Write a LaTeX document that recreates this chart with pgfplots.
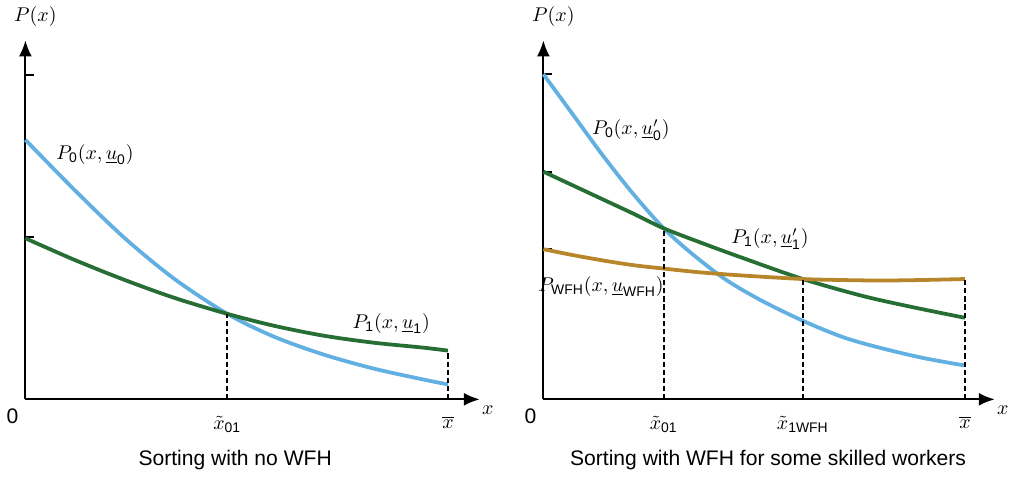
\documentclass[border=0pt]{standalone}
\usepackage{fontspec}
\setmainfont{Liberation Sans}
\usepackage{amsmath}
\usepackage{pgfplots}
\pgfplotsset{compat=1.18}
\usetikzlibrary{arrows.meta}

\definecolor{pblue}{RGB}{98,176,226}
\definecolor{pgreen}{RGB}{38,110,52}
\definecolor{pgold}{RGB}{184,134,42}

\tikzset{caption/.style={font=\fontsize{10.6}{12}\selectfont}}

\pgfplotsset{
  sortax/.style={
    x=0.5pt, y=0.5pt,
    xmin=0, ymin=0, ymax=361,
    axis lines=left,
    axis line style={line width=1pt, -{Latex[length=8pt,width=6.5pt]}},
    clip=false,
    tick align=inside,
    major tick length=4.5pt,
    ytick style={line width=1pt, black},
    yticklabel=\empty,
    xtick style={draw=none},
    xticklabel style={yshift=-5pt},
    every node/.append style={font=\fontsize{9.6}{11}\selectfont},
  },
  curve/.style={line width=1.9pt, smooth},
  guide/.style={line width=0.9pt, dash pattern=on 2.6pt off 1.5pt, black},
}

\begin{document}
\begin{tikzpicture}
% ---------- left: no WFH ----------
\begin{axis}[sortax, xmax=457,
    ytick={163,326},
    xtick={203,425},
    xticklabels={$\tilde{x}_{\text{01}}$, $\overline{x}$}]

\addplot[curve, pblue] coordinates {
(0,261) (50,210) (100,162) (150,121) (203,86) (250,63) (300,45) (350,31) (400,20) (425,15)};
\addplot[curve, pgreen] coordinates {
(0,162) (50,140) (100,120) (150,102) (203,86) (250,74) (300,64) (350,57) (400,52) (425,49)};

\addplot[guide] coordinates {(203,0) (203,86)};
\addplot[guide] coordinates {(425,0) (425,49)};

\node at (axis cs:70,246) {$P_{\text{0}}(x,\underline{u}_{\text{0}})$};
\node at (axis cs:368,76) {$P_{\text{1}}(x,\underline{u}_{\text{1}})$};
\node at (axis cs:10,385) {$P(x)$};
\node[caption] at (axis cs:-13,-17) {0};
\node at (axis cs:465,-11) {$x$};
\node[caption] at (axis cs:211,-61) {Sorting with no WFH};
\end{axis}

% ---------- right: WFH for some skilled workers ----------
\begin{axis}[sortax, xshift=260.5pt, xmax=454,
    ytick={151,229,327},
    xtick={121,261,424},
    xticklabels={$\tilde{x}_{\text{01}}$, $\tilde{x}_{\text{1WFH}}$, $\overline{x}$}]

\addplot[curve, pblue] coordinates {
(0,327) (30,286) (60,245) (90,207) (121,172) (150,146) (184,120) (220,99) (261,79) (300,63) (334,53) (380,42) (424,34)};
\addplot[curve, pgreen] coordinates {
(0,229) (30,215) (60,201) (90,187) (121,172) (160,157) (201,142) (261,121) (321,104) (370,93) (424,82)};
\addplot[curve, pgold] coordinates {
(0,151) (30,145) (61,139.5) (90,135) (121,131.5) (160,127.5) (201,124.5) (261,121) (300,120) (340,119.5) (380,120) (424,121)};

\addplot[guide] coordinates {(121,0) (121,172)};
\addplot[guide] coordinates {(261,0) (261,121)};
\addplot[guide] coordinates {(424,0) (424,121)};

\node at (axis cs:88,271) {$P_{\text{0}}(x,\underline{u}'_{\text{0}})$};
\node at (axis cs:228,161) {$P_{\text{1}}(x,\underline{u}'_{\text{1}})$};
\node at (axis cs:58,113) {$P_{\text{WFH}}(x,\underline{u}_{\text{WFH}})$};
\node at (axis cs:10,385) {$P(x)$};
\node[caption] at (axis cs:-13,-17) {0};
\node at (axis cs:462,-11) {$x$};
\node[caption] at (axis cs:226,-61) {Sorting with WFH for some skilled workers};
\end{axis}
\end{tikzpicture}
\end{document}
